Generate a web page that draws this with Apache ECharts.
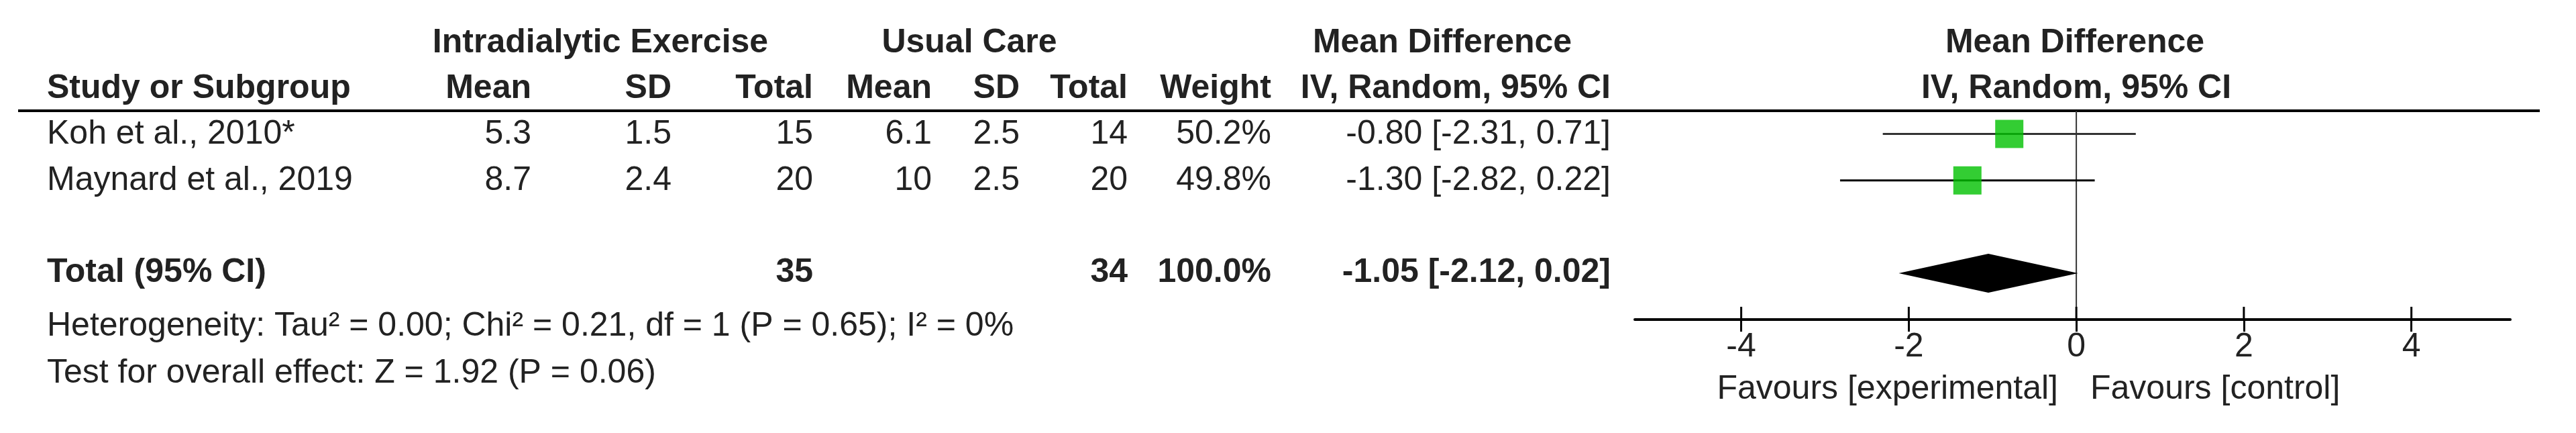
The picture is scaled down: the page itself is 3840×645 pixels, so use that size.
<!DOCTYPE html>
<html><head><meta charset="utf-8">
<script src="https://cdn.jsdelivr.net/npm/echarts@6/dist/echarts.min.js"></script>
<style>html,body{margin:0;padding:0;background:#fff}#c{width:3840px;height:645px}</style>
</head><body><div id="c"></div>
<script>
const studies = ["Koh et al., 2010*", "Maynard et al., 2019"];
const expMean = ["5.3", "8.7"];
const expSD = ["1.5", "2.4"];
const expTotal = ["15", "20"];
const ctlMean = ["6.1", "10"];
const ctlSD = ["2.5", "2.5"];
const ctlTotal = ["14", "20"];
const weights = ["50.2%", "49.8%"];
const md = [-0.80, -1.30];
const lo = [-2.31, -2.82];
const hi = [0.71, 0.22];
const totalExp = "35", totalCtl = "34", totalWeight = "100.0%";
const pooled = { md: -1.05, lo: -2.12, hi: 0.02 };
const rowPos = [0.5, 1.5];
const totalPos = 3.5;
const ticks = [-4, -2, 0, 2, 4];
const heterogeneity = "Heterogeneity: Tau\u00b2 = 0.00; Chi\u00b2 = 0.21, df = 1 (P = 0.65); I\u00b2 = 0%";
const overall = "Test for overall effect: Z = 1.92 (P = 0.06)";

const fmt = v => (v < 0 ? "-" : "") + Math.abs(v).toFixed(2);
const ciText = (m, l, h) => fmt(m) + " [" + fmt(l) + ", " + fmt(h) + "]";

const F = "Liberation Sans, Arial, sans-serif";
const C = "#222";
const FS = 50;
function T(x, y, text, align, bold) {
  return { type: "text", x: x, y: y, style: { text: text, fill: C, font: (bold ? "bold " : "") + FS + "px " + F, textAlign: align || "left", textVerticalAlign: "middle" } };
}
const rowY = [200, 269], totY = 406;
const g = [];
g.push(T(895, 64, "Intradialytic Exercise", "center", true));
g.push(T(1445, 64, "Usual Care", "center", true));
g.push(T(2150, 64, "Mean Difference", "center", true));
g.push(T(3093, 64, "Mean Difference", "center", true));
g.push(T(70, 132, "Study or Subgroup", "left", true));
g.push(T(792, 132, "Mean", "right", true));
g.push(T(1001, 132, "SD", "right", true));
g.push(T(1212, 132, "Total", "right", true));
g.push(T(1389, 132, "Mean", "right", true));
g.push(T(1520, 132, "SD", "right", true));
g.push(T(1681, 132, "Total", "right", true));
g.push(T(1895, 132, "Weight", "right", true));
g.push(T(2401, 132, "IV, Random, 95% CI", "right", true));
g.push(T(3095, 132, "IV, Random, 95% CI", "center", true));
g.push({ type: "line", shape: { x1: 27, y1: 165, x2: 3786, y2: 165 }, style: { stroke: "#000", lineWidth: 4 } });
for (let i = 0; i < studies.length; i++) {
  const y = rowY[i];
  g.push(T(70, y, studies[i]));
  g.push(T(792, y, expMean[i], "right"));
  g.push(T(1001, y, expSD[i], "right"));
  g.push(T(1212, y, expTotal[i], "right"));
  g.push(T(1389, y, ctlMean[i], "right"));
  g.push(T(1520, y, ctlSD[i], "right"));
  g.push(T(1681, y, ctlTotal[i], "right"));
  g.push(T(1895, y, weights[i], "right"));
  g.push(T(2401, y, ciText(md[i], lo[i], hi[i]), "right"));
}
g.push(T(70, totY, "Total (95% CI)", "left", true));
g.push(T(1212, totY, totalExp, "right", true));
g.push(T(1681, totY, totalCtl, "right", true));
g.push(T(1895, totY, totalWeight, "right", true));
g.push(T(2401, totY, ciText(pooled.md, pooled.lo, pooled.hi), "right", true));
g.push(T(70, 486, heterogeneity));
g.push(T(70, 556, overall));
g.push(T(3068, 580, "Favours [experimental]", "right"));
g.push(T(3116, 580, "Favours [control]", "left"));

const chart = echarts.init(document.getElementById("c"));
chart.setOption({
  animation: false,
  grid: { left: 2437, top: 165, width: 1305, height: 311 },
  xAxis: {
    type: "value", min: -5.27, max: 5.18, splitLine: { show: false },
    axisLine: { show: true, onZero: false, lineStyle: { color: "#000", width: 4 } },
    axisTick: { show: true, length: 18, customValues: ticks, lineStyle: { color: "#000", width: 3 } },
    axisLabel: { customValues: ticks, color: C, fontSize: FS, fontFamily: F, margin: 16, formatter: v => String(v) }
  },
  yAxis: { type: "value", min: 0, max: 4.5, inverse: true, show: false },
  graphic: g,
  series: [
    {
      type: "line", data: [[0, 0], [0, 4.5]], symbol: "none", silent: true,
      lineStyle: { color: "#333", width: 2 }, z: 1
    },
    {
      type: "custom", z: 2, silent: true,
      data: ticks.map(t => [t, 4.5]),
      renderItem: (p, api) => {
        const a = api.coord([api.value(0), api.value(1)]);
        return { type: "line", shape: { x1: a[0], y1: a[1], x2: a[0], y2: a[1] - 19 }, style: { stroke: "#000", lineWidth: 3 } };
      }
    },
    {
      type: "custom", z: 2,
      data: md.map((m, i) => [lo[i], hi[i], rowPos[i]]),
      renderItem: (p, api) => {
        const a = api.coord([api.value(0), api.value(2)]);
        const b = api.coord([api.value(1), api.value(2)]);
        return { type: "line", shape: { x1: a[0], y1: a[1], x2: b[0], y2: b[1] }, style: { stroke: p.dataIndex === 0 ? "#333" : "#000", lineWidth: 3 } };
      }
    },
    {
      type: "scatter", z: 3, symbol: "rect", symbolSize: 42,
      data: md.map((m, i) => [m, rowPos[i]]),
      itemStyle: { color: "#00c000" }
    },
    {
      type: "custom", z: 3,
      data: [[pooled.lo, pooled.md, pooled.hi, totalPos]],
      renderItem: (p, api) => {
        const l = api.coord([api.value(0), api.value(3)]);
        const m = api.coord([api.value(1), api.value(3)]);
        const h = api.coord([api.value(2), api.value(3)]);
        const hh = 29;
        return { type: "polygon", shape: { points: [[l[0], l[1]], [m[0], m[1] - hh], [h[0], h[1]], [m[0], m[1] + hh]] }, style: { fill: "#000" } };
      }
    }
  ]
});
</script></body></html>
